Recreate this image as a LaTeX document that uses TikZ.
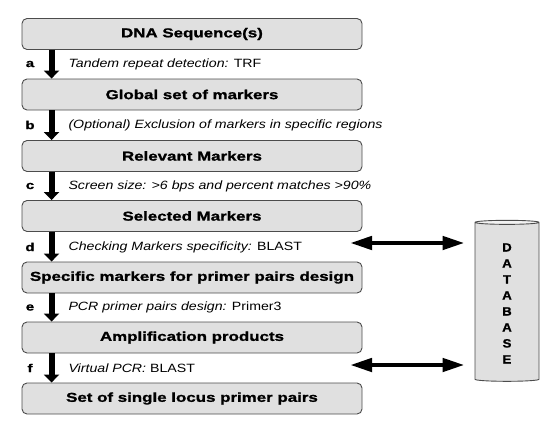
\documentclass[tikz,border=0pt]{standalone}
\usepackage{fontspec}
\setmainfont{Liberation Sans}
\usetikzlibrary{arrows.meta,shapes.geometric}
\newfontfamily\widefont[FakeStretch=1.3,FakeBold=1.2]{Liberation Sans}
\newfontfamily\labelfont[FakeStretch=1.18]{Liberation Sans}
\newfontfamily\dbfont[FakeStretch=1.1,FakeBold=1.2]{Liberation Sans}
\tikzset{
  box/.style={draw=black!70, line width=0.9pt, fill=black!12, rounded corners=5pt,
    minimum width=340pt, minimum height=31pt, font=\widefont\bfseries\fontsize{13}{15}\selectfont},
  flow/.style={line width=6pt, -{Triangle[width=15pt,length=8pt]}},
  dbarrow/.style={line width=4.5pt, {Triangle[width=13pt,length=22pt]}-{Triangle[width=13pt,length=22pt]}},
  letter/.style={font=\widefont\bfseries\fontsize{11.5}{13}\selectfont},
  lbl/.style={anchor=west, font=\labelfont\fontsize{12}{14}\selectfont}
}
\begin{document}
\begin{tikzpicture}[x=1pt,y=-1pt]
\useasboundingbox (0,0) rectangle (556,428);
\node [box] (seq) at (192,34) {DNA Sequence(s)};
\node [box] (glob) at (192,94.5) {Global set of markers};
\node [box] (rel) at (192,156) {Relevant Markers};
\node [box] (sel) at (192,216) {Selected Markers};
\node [box] (spec) at (192,277.5) {Specific markers for primer pairs design};
\node [box] (amp) at (192,337.5) {Amplification products};
\node [box] (set) at (192,398.5) {Set of single locus primer pairs};
% steps between the boxes
\draw [flow] ([xshift=30pt]seq.south west) -- ([xshift=30pt]glob.north west);
\draw [flow] ([xshift=30pt]glob.south west) -- ([xshift=30pt]rel.north west);
\draw [flow] ([xshift=30pt]rel.south west) -- ([xshift=30pt]sel.north west);
\draw [flow] ([xshift=30pt]sel.south west) -- ([xshift=30pt]spec.north west);
\draw [flow] ([xshift=30pt]spec.south west) -- ([xshift=30pt]amp.north west);
\draw [flow] ([xshift=30pt]amp.south west) -- ([xshift=30pt]set.north west);
\node [letter] (la) at (30,64) {a}; \node [lbl] (ta) at (65,64) {\itshape Tandem repeat detection: \upshape TRF};
\node [letter] (lb) at (30,125) {b}; \node [lbl] (tb) at (65,125) {\itshape (Optional) Exclusion of markers in specific regions};
\node [letter] (lc) at (30,186) {c}; \node [lbl] (tc) at (65,186) {\itshape Screen size: >6 bps and percent matches >90\%};
\node [letter] (ld) at (30,247) {d}; \node [lbl] (td) at (65,247) {\itshape Checking Markers specificity: \upshape BLAST};
\node [letter] (le) at (30,307.5) {e}; \node [lbl] (te) at (65,307.5) {\itshape PCR primer pairs design: \upshape Primer3};
\node [letter] (lf) at (30,368) {f}; \node [lbl] (tf) at (65,368) {\itshape Virtual PCR: \upshape BLAST};
% database
\node [cylinder, shape border rotate=90, aspect=0.25, draw=black!70, line width=0.9pt,
  cylinder uses custom fill, cylinder body fill=black!12, cylinder end fill=black!5,
  minimum width=64pt, minimum height=161pt, align=center,
  font=\dbfont\bfseries\fontsize{12}{16}\selectfont] (db) at (507,302.5) {\\[-6pt]D\\A\\T\\A\\B\\A\\S\\E};
\coordinate (d1) at (350,243);
\coordinate (d2) at (350,365);
\draw [dbarrow] (d1) -- ([xshift=-10pt]d1 -| db.west);
\draw [dbarrow] (d2) -- ([xshift=-10pt]d2 -| db.west);
\end{tikzpicture}
\end{document}
